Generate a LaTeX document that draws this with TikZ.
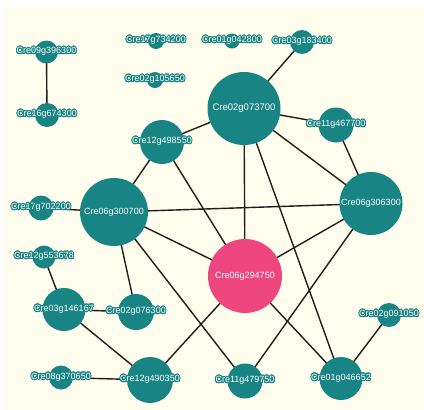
\documentclass[tikz,border=0pt]{standalone}
\usepackage{fontspec}
\setmainfont{Liberation Sans}
\usepackage{contour}
\contourlength{0.9pt}
\contournumber{24}
\definecolor{cream}{RGB}{254,253,238}
\definecolor{tealn}{RGB}{24,132,132}
\definecolor{pinkn}{RGB}{238,70,126}
\definecolor{edgec}{RGB}{30,30,26}
\pgfdeclarelayer{bg}
\pgfdeclarelayer{edges}
\pgfsetlayers{bg,edges,main}
\tikzset{
  gene/.style={circle, fill=tealn, inner sep=0pt, minimum size=#1},
  hub/.style={circle, fill=pinkn, inner sep=0pt, minimum size=#1},
  tlab/.style={font=\fontsize{9}{10}\selectfont, text=white, inner sep=0pt},
  conn/.style={draw=edgec, line width=1.4pt}
}
\newcommand{\glab}[1]{\contour{tealn}{#1}}
\begin{document}
\begin{tikzpicture}[x=1pt,y=-1pt]
\useasboundingbox (0,0) rectangle (424,410);
\begin{pgfonlayer}{bg}
  \fill[white] (0,0) rectangle (424,410);
  \fill[cream] (4,8) rectangle (424,410);
\end{pgfonlayer}

\node[gene=23pt, label={[tlab]center:\glab{Cre09g396300}}] (n09) at (46.5,52) {};
\node[gene=24pt, label={[tlab]center:\glab{Cre16g674300}}] (n16) at (47,115) {};
\node[gene=16pt, label={[tlab]center:\glab{Cre17g734200}}] (n17a) at (156,41) {};
\node[gene=15pt, label={[tlab]center:\glab{Cre01g042800}}] (n01a) at (232,41) {};
\node[gene=24pt, label={[tlab]center:\glab{Cre03g183400}}] (n03a) at (302,42) {};
\node[gene=16pt, label={[tlab]center:\glab{Cre02g105650}}] (n02a) at (155,80) {};
\node[gene=73pt, label={[tlab,font=\fontsize{9.5}{10}\selectfont]center:Cre02g073700}] (n02b) at (244,108.5) {};
\node[gene=35pt, label={[tlab]center:\glab{Cre11g467700}}] (n11a) at (336,125) {};
\node[gene=44pt, label={[tlab]center:\glab{Cre12g498550}}] (n12a) at (162,142) {};
\node[gene=68pt, label={[tlab]center:Cre06g300700}] (n06a) at (114,212) {};
\node[gene=25pt, label={[tlab]center:\glab{Cre17g702200}}] (n17b) at (41,208) {};
\node[gene=63pt, label={[tlab]center:Cre06g306300}] (n06b) at (371,203.5) {};
\node[gene=23pt, label={[tlab]center:\glab{Cre12g553678}}] (n12b) at (44,257) {};
\node[hub=74pt, label={[tlab]center:Cre06g294750}] (np) at (245,276) {};
\node[gene=43pt, label={[tlab]center:\glab{Cre03g146167}}] (n03b) at (64,309.5) {};
\node[gene=36pt, label={[tlab]center:\glab{Cre02g076300}}] (n02c) at (136,312) {};
\node[gene=24pt, label={[tlab]center:\glab{Cre02g091050}}] (n02d) at (389,315) {};
\node[gene=24pt, label={[tlab]center:\glab{Cre08g370650}}] (n08) at (61,377.5) {};
\node[gene=46pt, label={[tlab]center:\glab{Cre12g490350}}] (n12c) at (150,380) {};
\node[gene=35pt, label={[tlab]center:\glab{Cre11g479750}}] (n11b) at (245,381) {};
\node[gene=43pt, label={[tlab]center:\glab{Cre01g046652}}] (n01b) at (341,378.5) {};

\begin{pgfonlayer}{edges}
  \draw[conn] (n09.center) -- (n16.center);
  \draw[conn] (n03a.center) -- (n02b.center);
  \draw[conn] (n02b.center) -- (n11a.center);
  \draw[conn] (n02b.center) -- (n12a.center);
  \draw[conn] (n02b.center) -- (n06b.center);
  \draw[conn] (n02b.center) -- (np.center);
  \draw[conn] (n02b.center) -- (n01b.center);
  \draw[conn] (n11a.center) -- (n06b.center);
  \draw[conn] (n12a.center) -- (n06a.center);
  \draw[conn] (n12a.center) -- (np.center);
  \draw[conn] (n06a.center) -- (n17b.center);
  \draw[conn] (n06a.center) -- (n06b.center);
  \draw[conn] (n06a.center) -- (np.center);
  \draw[conn] (n06a.center) -- (n02c.center);
  \draw[conn] (n06a.center) -- (n11b.center);
  \draw[conn] (n06b.center) -- (np.center);
  \draw[conn] (n06b.center) -- (n11b.center);
  \draw[conn] (np.center) -- (n12c.center);
  \draw[conn] (np.center) -- (n01b.center);
  \draw[conn] (n12b.center) -- (n03b.center);
  \draw[conn] (n03b.center) -- (n02c.center);
  \draw[conn] (n03b.center) -- (n12c.center);
  \draw[conn] (n08.center) -- (n12c.center);
  \draw[conn] (n01b.center) -- (n02d.center);
\end{pgfonlayer}
\end{tikzpicture}
\end{document}
